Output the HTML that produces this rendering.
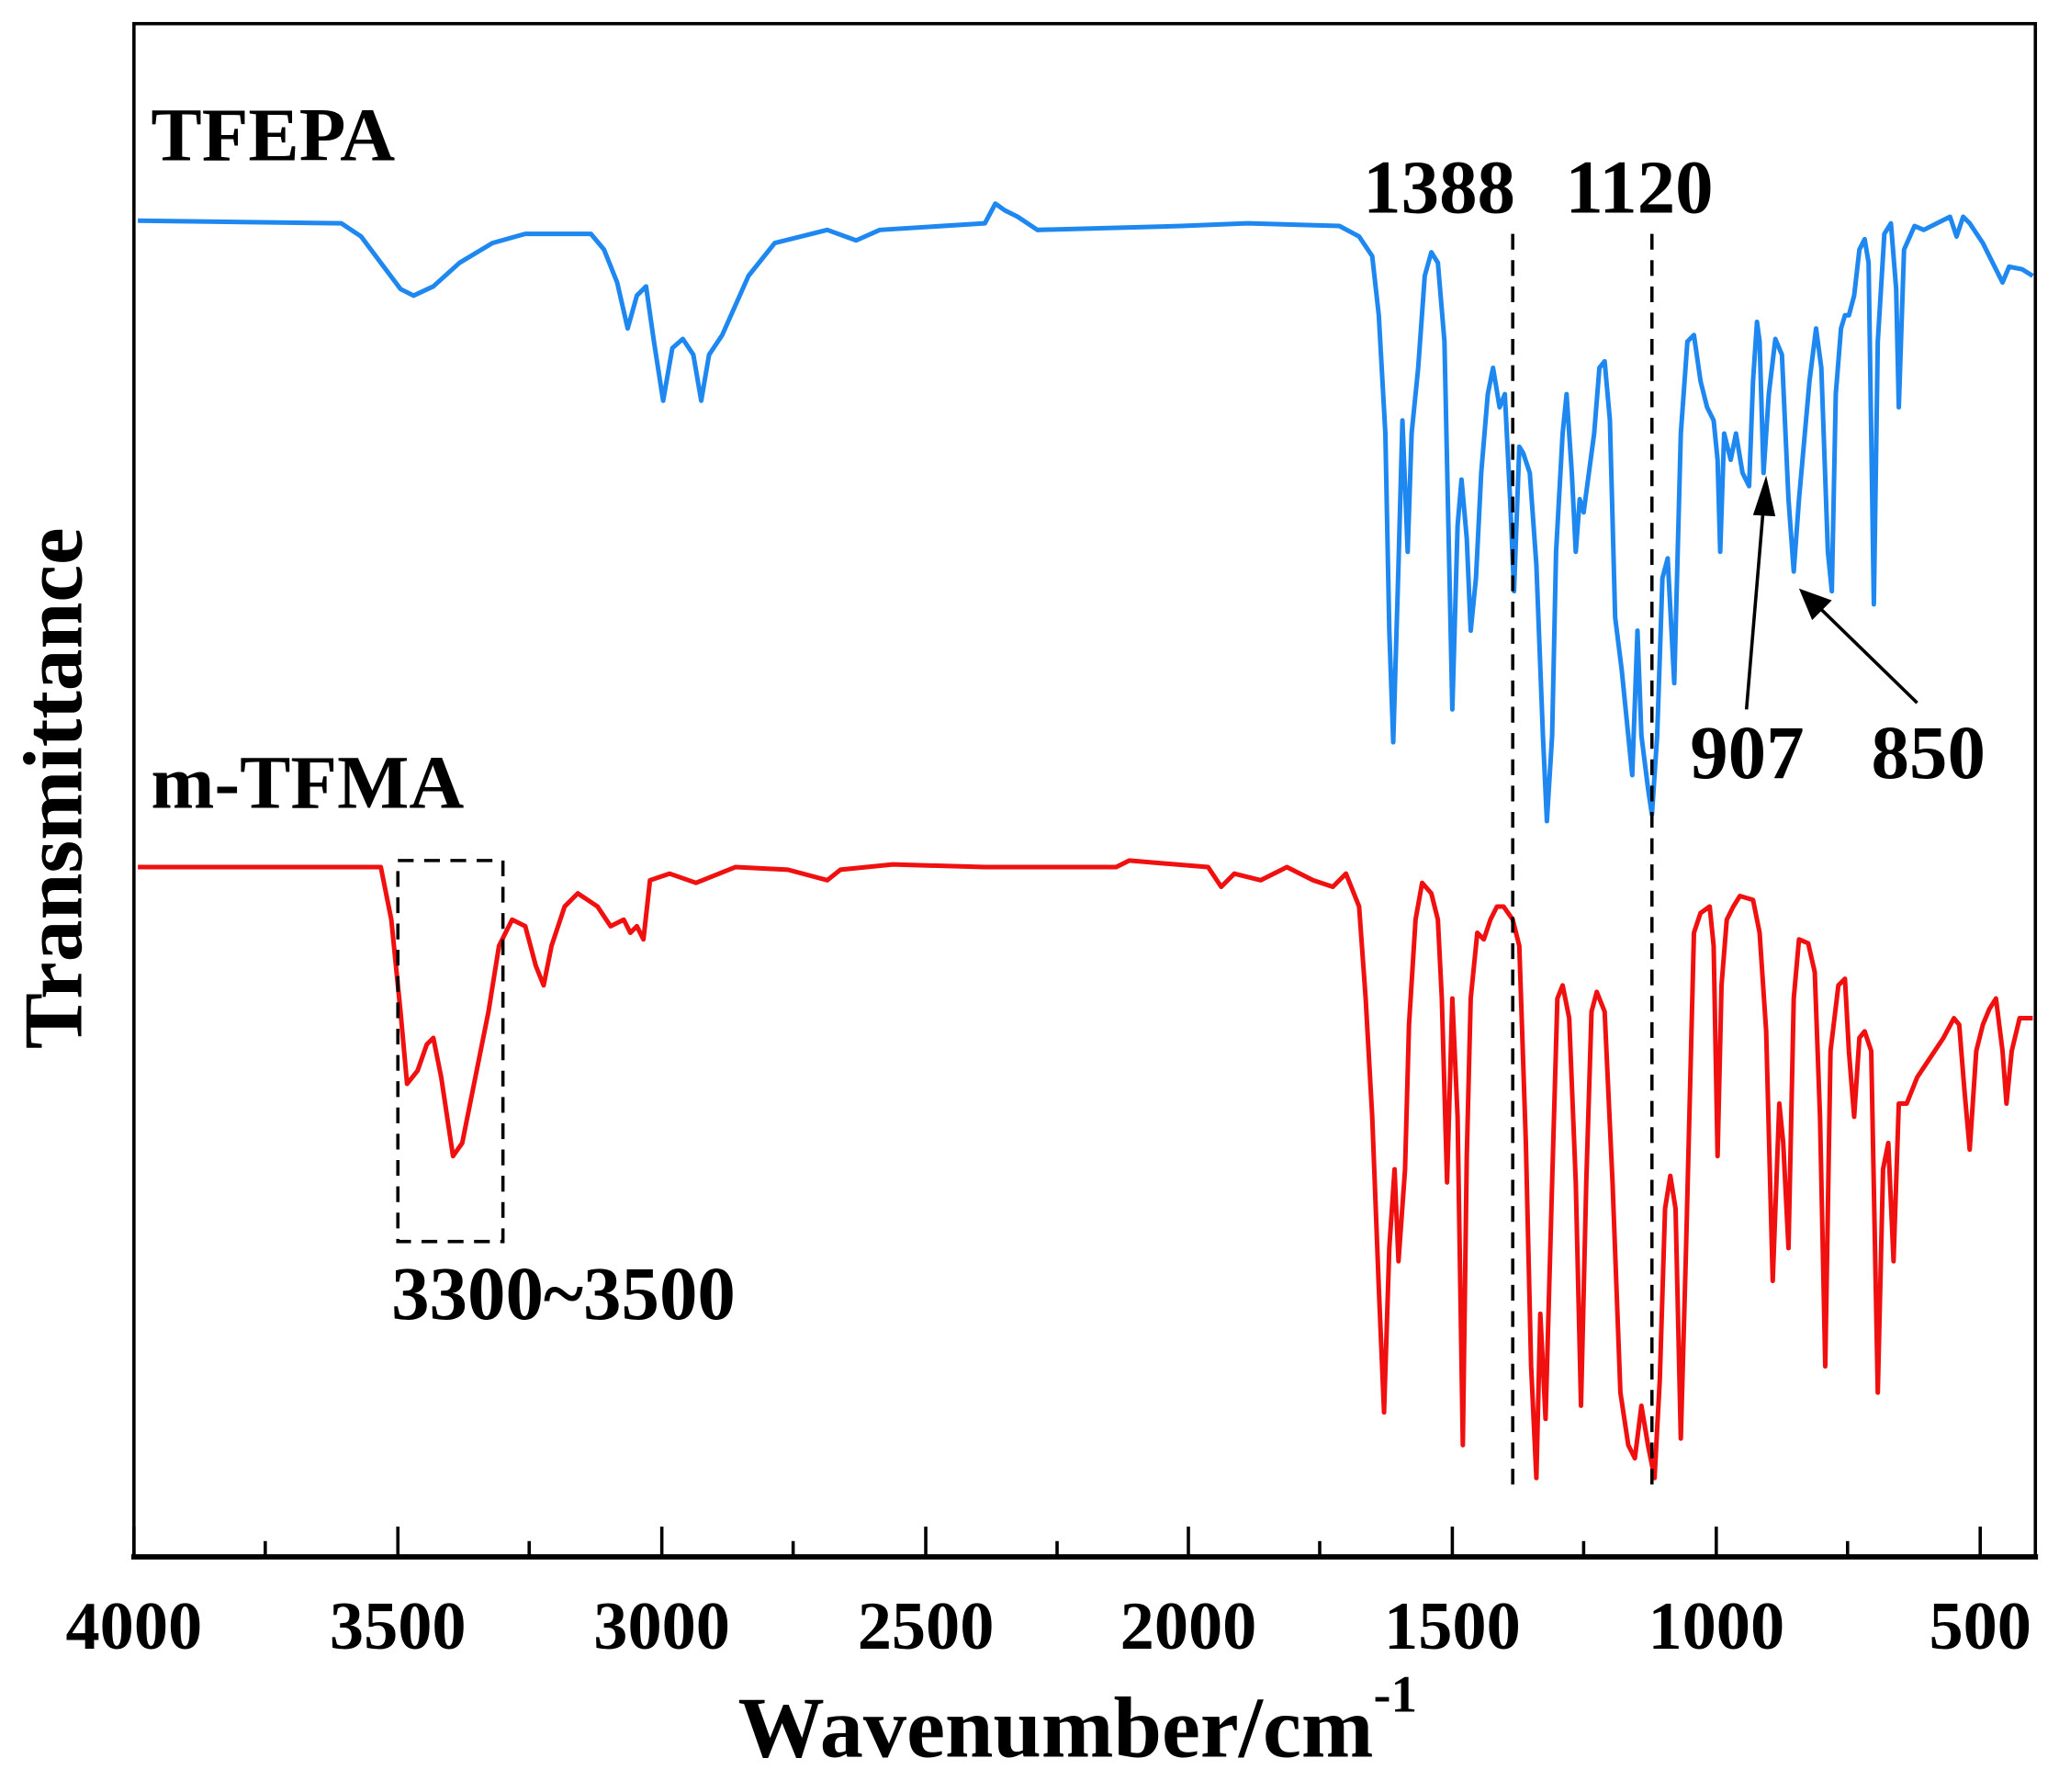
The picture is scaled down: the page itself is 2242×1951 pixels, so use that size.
<!DOCTYPE html>
<html><head><meta charset="utf-8"><style>html,body{margin:0;padding:0;background:#fff}svg{display:block}</style></head><body>
<svg width="2242" height="1951" viewBox="0 0 1568 1364" preserveAspectRatio="none" xmlns="http://www.w3.org/2000/svg" font-family="Liberation Serif, serif" font-weight="bold">
<rect width="1568" height="1364" fill="#fff"/>
<polyline fill="none" stroke="#1E88F0" stroke-width="3.5" stroke-linejoin="round" points="105,168 260,170 275,180 290,200 305,220 315,225 330,218 350,200 375,185 400,178 450,178 460,190 470,215 478,250 485,225 492,218 498,260 505,305 512,265 520,258 528,270 534,305 540,270 550,255 570,210 590,185 630,175 652,183 670,175 750,170 758,155 765,160 775,165 790,175 900,172 950,170 1020,172 1035,180 1045,195 1050,240 1055,330 1058,480 1061,565 1065,430 1068,320 1072,420 1075,330 1080,280 1085,210 1090,192 1095,200 1100,260 1103,400 1106,540 1110,400 1113,365 1117,410 1120,480 1124,440 1128,360 1133,300 1137,280 1142,310 1146,300 1150,380 1153,450 1157,340 1160,345 1165,360 1170,430 1175,560 1178,625 1182,560 1185,420 1190,330 1193,300 1197,360 1200,420 1203,380 1206,390 1210,360 1214,330 1218,280 1222,275 1226,320 1230,470 1235,510 1240,560 1243,590 1247,480 1250,560 1255,600 1258,620 1262,560 1266,440 1270,425 1275,520 1280,330 1285,260 1290,255 1295,290 1300,310 1305,320 1308,350 1310,420 1313,330 1318,350 1322,330 1327,360 1332,370 1335,290 1338,245 1340,260 1343,360 1347,300 1352,258 1357,270 1362,380 1366,435 1370,380 1378,290 1383,250 1387,280 1392,420 1395,450 1398,300 1402,250 1405,240 1408,240 1412,225 1416,190 1420,182 1423,200 1427,460 1430,260 1435,178 1440,170 1444,220 1446,310 1450,190 1458,172 1465,175 1475,170 1485,165 1490,180 1495,165 1500,170 1510,185 1520,205 1525,215 1530,203 1540,205 1548,210"/>
<polyline fill="none" stroke="#F01010" stroke-width="3.5" stroke-linejoin="round" points="105,660 290,660 298,700 305,770 310,825 318,815 325,795 330,790 336,820 345,880 352,870 360,830 372,770 380,720 390,700 400,705 408,735 414,750 420,720 430,690 440,680 455,690 465,705 475,700 480,710 485,705 490,715 495,670 510,665 530,672 560,660 600,662 630,670 640,662 680,658 750,660 850,660 860,655 920,660 930,675 940,665 960,670 980,660 1000,670 1015,675 1025,665 1035,690 1040,760 1045,850 1050,980 1054,1075 1058,950 1062,890 1065,960 1070,890 1073,780 1078,700 1083,672 1090,680 1095,700 1098,760 1102,900 1106,760 1110,850 1114,1100 1117,880 1120,760 1125,710 1130,715 1135,700 1140,690 1145,690 1152,700 1157,720 1162,870 1166,1040 1170,1125 1173,1000 1177,1080 1182,900 1186,760 1190,750 1195,775 1200,900 1204,1070 1208,900 1212,770 1216,755 1222,770 1228,900 1234,1060 1240,1100 1245,1110 1250,1070 1255,1100 1260,1125 1264,1050 1268,920 1272,895 1276,920 1280,1095 1284,950 1290,710 1295,695 1302,690 1305,720 1308,880 1311,750 1315,700 1320,690 1325,682 1335,685 1340,710 1345,785 1350,975 1355,840 1358,870 1362,950 1366,760 1370,715 1377,718 1382,740 1386,850 1390,1040 1394,800 1400,750 1405,745 1408,800 1412,850 1416,790 1420,785 1425,800 1430,1060 1434,890 1438,870 1442,960 1446,840 1452,840 1460,820 1470,805 1480,790 1488,775 1492,780 1496,830 1500,875 1505,800 1510,780 1515,768 1520,760 1525,800 1528,840 1532,800 1538,775 1548,775"/>
<g stroke="#000" stroke-width="2.5" stroke-dasharray="12,8" fill="none">
<line x1="1152" y1="178" x2="1152" y2="1132"/>
<line x1="1258" y1="178" x2="1258" y2="1132"/>
<rect x="303" y="655" width="80" height="290"/>
</g>
<g stroke="#000" stroke-width="2.5">
<line x1="1330" y1="540" x2="1343" y2="385"/>
<line x1="1460" y1="535" x2="1385" y2="462"/>
</g>
<polygon points="1345,362 1335,392 1352,393" fill="#000"/>
<polygon points="1370,448 1380,472 1395,457" fill="#000"/>
<rect x="102" y="18" width="1448" height="1167" fill="none" stroke="#000" stroke-width="2.5"/>
<line x1="100" y1="1185" x2="1552" y2="1185" stroke="#000" stroke-width="4"/>
<g stroke="#000" stroke-width="2.5">
<line x1="102" y1="1185" x2="102" y2="1162"/><line x1="202" y1="1185" x2="202" y2="1173"/>
<line x1="303" y1="1185" x2="303" y2="1162"/><line x1="403" y1="1185" x2="403" y2="1173"/>
<line x1="504" y1="1185" x2="504" y2="1162"/><line x1="604" y1="1185" x2="604" y2="1173"/>
<line x1="705" y1="1185" x2="705" y2="1162"/><line x1="805" y1="1185" x2="805" y2="1173"/>
<line x1="905" y1="1185" x2="905" y2="1162"/><line x1="1005" y1="1185" x2="1005" y2="1173"/>
<line x1="1106" y1="1185" x2="1106" y2="1162"/><line x1="1206" y1="1185" x2="1206" y2="1173"/>
<line x1="1307" y1="1185" x2="1307" y2="1162"/><line x1="1407" y1="1185" x2="1407" y2="1173"/>
<line x1="1508" y1="1185" x2="1508" y2="1162"/>
</g>
<g font-size="52" text-anchor="middle" fill="#000">
<text x="102" y="1255">4000</text><text x="303" y="1255">3500</text><text x="504" y="1255">3000</text>
<text x="705" y="1255">2500</text><text x="905" y="1255">2000</text><text x="1106" y="1255">1500</text>
<text x="1307" y="1255">1000</text><text x="1508" y="1255">500</text>
</g>
<text x="562" y="1337" font-size="66">Wavenumber/cm<tspan font-size="40" dy="-34">-1</tspan></text>
<text transform="translate(62,600) rotate(-90)" font-size="64" text-anchor="middle">Transmittance</text>
<g font-size="58" fill="#000">
<text x="115" y="122">TFEPA</text>
<text x="115" y="615">m-TFMA</text>
<text x="1038" y="162">1388</text>
<text x="1192" y="162">1120</text>
<text x="1287" y="592">907</text>
<text x="1425" y="592">850</text>
<text x="298" y="1004">3300~3500</text>
</g>
</svg>
</body></html>
